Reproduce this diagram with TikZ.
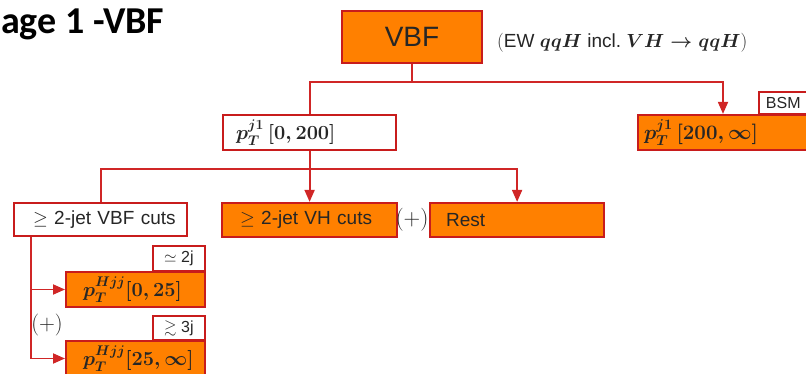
\RequirePackage{fix-cm}
\documentclass[tikz,border=0pt]{standalone}
\usepackage{amsmath,amssymb}
\usepackage{fontspec}
\setmainfont{Liberation Sans}
\newfontfamily\titlefont{Carlito}
\usetikzlibrary{arrows.meta}

\definecolor{boxorange}{RGB}{255,128,0}
\definecolor{edgered}{RGB}{200,28,28}
\definecolor{linered}{RGB}{208,38,38}
\definecolor{ink}{RGB}{38,38,38}

\newcommand{\fs}[1]{\fontsize{#1}{#1}\selectfont}

\tikzset{
  box/.style={draw=edgered, line width=2.2pt, rectangle, inner ysep=0pt,
              text=ink, align=left},
  obox/.style={box, fill=boxorange},
  wbox/.style={box, fill=white},
  tagbox/.style={draw=edgered, line width=1.8pt, fill=white, rectangle,
                 inner sep=0pt, text=ink, font=\fs{16}},
  link/.style={draw=linered, line width=1.8pt},
  arr/.style={link, -{Triangle[length=12pt,width=10pt]}},
  note/.style={inner sep=0pt, text=ink}
}

\begin{document}
\begin{tikzpicture}[x=1pt,y=-1pt]
\useasboundingbox (0,0) rectangle (806,374);

% heading
\node[anchor=base west, inner sep=0pt, font=\titlefont\bfseries\fs{38}] (title) at (1,34) {age 1 -VBF};

% top level
\node[obox, align=center, minimum width=140pt, minimum height=52pt, font=\fs{28}] (vbf) at (412,37) {VBF};
\node[note, anchor=west, font=\fs{19}] (ann) at (497,43)
  {$($EW {\boldmath$qqH$} incl.\ {\boldmath$VH\rightarrow qqH$}$)$};

% leading-jet split
\node[wbox, anchor=west, text width=147pt, inner xsep=13pt, minimum height=35pt, font=\fs{20}] (p1) at (222,132.5)
  {\mbox{\boldmath$p_T^{j1}\,[0,200]$}};
\node[tagbox, anchor=south west, text width=56pt, inner xsep=7pt, minimum height=22pt, align=left] (bsmtag) at (758,115) {BSM};
\node[obox, anchor=west, text width=188pt, inner xsep=6pt, minimum height=35pt, font=\fs{20.5}] (bsm) at (637,132.5)
  {\mbox{\boldmath$p_T^{j1}\,[200,\infty]$}};

% jet categories
\node[wbox, anchor=west, text width=135pt, inner xsep=19pt, minimum height=33pt, font=\fs{19}] (vbfcuts) at (13,219.5)
  {\mbox{$\geq$ 2-jet VBF cuts}};
\node[obox, anchor=west, text width=139pt, inner xsep=18pt, minimum height=34pt, font=\fs{19}] (vhcuts) at (221,220)
  {\mbox{$\geq$ 2-jet VH cuts}};
\node[note, font=\fs{23}] (plus1) at (412,220) {$(+)$};
\node[obox, anchor=west, text width=142pt, inner xsep=16pt, minimum height=34pt, font=\fs{19}] (rest) at (429,220)
  {\mbox{Rest}};

% dijet transverse momentum bins
\node[tagbox, anchor=south west, minimum width=52pt, minimum height=25pt] (tag1) at (152,272) {$\simeq$ 2j};
\node[obox, anchor=west, text width=105pt, inner xsep=17pt, minimum height=35pt, font=\fs{20}] (hjj1) at (65,289.5)
  {\mbox{\boldmath$p_T^{Hjj}[0,25]$}};
\node[note, font=\fs{22}] (plus2) at (47,325) {$(+)$};
\node[tagbox, anchor=south west, minimum width=52pt, minimum height=24pt] (tag2) at (152,341) {$\gtrsim$ 3j};
\node[obox, anchor=west, text width=105pt, inner xsep=17pt, minimum height=35pt, font=\fs{20}] (hjj2) at (65,358.5)
  {\mbox{\boldmath$p_T^{Hjj}[25,\infty]$}};

% connectors
\path (vbf.south) ++(0,18) coordinate (k1);
\coordinate (bsmin) at ([xshift=86pt]bsm.north west);
\draw[link] (vbf.south) -- (k1);
\draw[link] (k1) -| (p1.north);
\draw[arr] (k1) -| (bsmin);

\path (p1.south) ++(0,18) coordinate (k2);
\draw[link] (p1.south) -- (k2);
\draw[link] (k2) -| (vbfcuts.north);
\draw[arr] (k2) -- (vhcuts.north);
\draw[arr] (k2) -| (rest.north);

\coordinate (k3) at ([xshift=18pt]vbfcuts.south west);
\draw[arr] (k3 |- hjj1.west) -- (hjj1.west);
\draw[arr] (k3) |- (hjj2.west);
\end{tikzpicture}
\end{document}
